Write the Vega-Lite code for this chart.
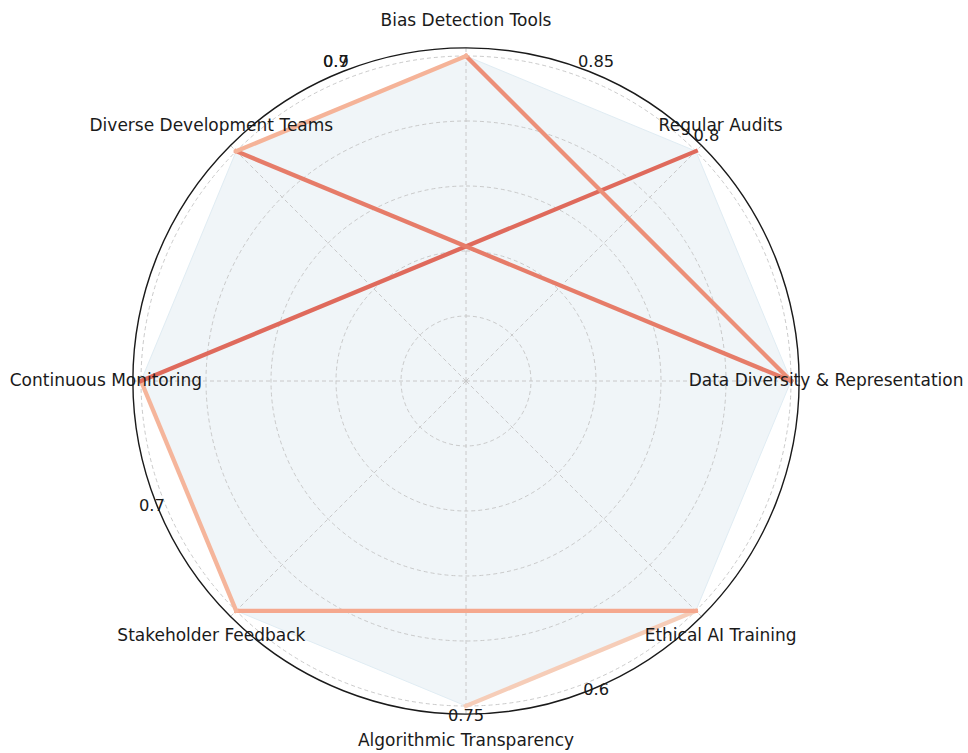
{
  "$schema": "https://vega.github.io/schema/vega-lite/v6.json",
  "width": 700,
  "height": 700,
  "autosize": {"type": "none"},
  "padding": {"left": 116, "top": 31, "right": 152, "bottom": 22},
  "background": "white",
  "config": {"view": {"stroke": null}, "text": {"font": "DejaVu Sans"}},
  "datasets": {
    "categories": [
      {"idx": 0, "category": "Bias Detection Tools", "angle": 90, "score": 1.0},
      {"idx": 1, "category": "Regular Audits", "angle": 45, "score": 1.0},
      {"idx": 2, "category": "Data Diversity & Representation", "angle": 0, "score": 1.0},
      {"idx": 3, "category": "Ethical AI Training", "angle": -45, "score": 1.0},
      {"idx": 4, "category": "Algorithmic Transparency", "angle": -90, "score": 1.0},
      {"idx": 5, "category": "Stakeholder Feedback", "angle": -135, "score": 1.0},
      {"idx": 6, "category": "Continuous Monitoring", "angle": 180, "score": 1.0},
      {"idx": 7, "category": "Diverse Development Teams", "angle": 135, "score": 1.0}
    ],
    "segments": [
      {"seg": "s1", "from": "Algorithmic Transparency", "to": "Ethical AI Training"},
      {"seg": "s2", "from": "Ethical AI Training", "to": "Stakeholder Feedback"},
      {"seg": "s3", "from": "Stakeholder Feedback", "to": "Continuous Monitoring"},
      {"seg": "s4", "from": "Continuous Monitoring", "to": "Regular Audits"},
      {"seg": "s5", "from": "Diverse Development Teams", "to": "Data Diversity & Representation"},
      {"seg": "s6", "from": "Data Diversity & Representation", "to": "Bias Detection Tools"},
      {"seg": "s7", "from": "Bias Detection Tools", "to": "Diverse Development Teams"}
    ],
    "rings": [{"r": 0.2}, {"r": 0.4}, {"r": 0.6}, {"r": 0.8}, {"r": 1.0}],
    "frame": [{"r": 1.025}],
    "valueLabels": [
      {"label": "0.9", "angle": 112.5},
      {"label": "0.7", "angle": 112.5},
      {"label": "0.85", "angle": 67.5},
      {"label": "0.8", "angle": 45},
      {"label": "0.6", "angle": -67.5},
      {"label": "0.75", "angle": -90},
      {"label": "0.7", "angle": -157.5}
    ]
  },
  "layer": [
    {
      "data": {"name": "categories"},
      "transform": [
        {"calculate": "datum.score * cos(datum.angle * PI / 180)", "as": "px"},
        {"calculate": "datum.score * sin(datum.angle * PI / 180)", "as": "py"}
      ],
      "mark": {"type": "line", "interpolate": "linear-closed", "fill": "#f0f5f8", "stroke": "#e0ecf3", "strokeWidth": 1},
      "encoding": {
        "x": {"field": "px", "type": "quantitative", "scale": {"domain": [-1.0769, 1.0769], "nice": false, "zero": false}, "axis": null},
        "y": {"field": "py", "type": "quantitative", "scale": {"domain": [-1.0769, 1.0769], "nice": false, "zero": false}, "axis": null},
        "order": {"field": "idx", "type": "quantitative"}
      }
    },
    {
      "data": {"name": "rings"},
      "mark": {"type": "arc", "filled": false, "stroke": "#c4c4c4", "strokeWidth": 0.9, "strokeDash": [4, 3]},
      "encoding": {
        "theta": {"datum": 0, "type": "quantitative", "scale": null},
        "theta2": {"datum": 6.2832},
        "radius": {"field": "r", "type": "quantitative", "stack": null, "scale": {"type": "linear", "domain": [0, 1.0769], "range": [0, 350], "zero": true, "nice": false}, "legend": null}
      }
    },
    {
      "data": {"name": "categories"},
      "transform": [
        {"calculate": "1.025 * cos(datum.angle * PI / 180)", "as": "ex"},
        {"calculate": "1.025 * sin(datum.angle * PI / 180)", "as": "ey"},
        {"calculate": "0", "as": "ox"}
      ],
      "mark": {"type": "rule", "stroke": "#c4c4c4", "strokeWidth": 0.9, "strokeDash": [4, 3]},
      "encoding": {
        "x": {"field": "ox", "type": "quantitative", "scale": {"domain": [-1.0769, 1.0769], "nice": false, "zero": false}, "axis": null},
        "y": {"field": "ox", "type": "quantitative", "scale": {"domain": [-1.0769, 1.0769], "nice": false, "zero": false}, "axis": null},
        "x2": {"field": "ex"},
        "y2": {"field": "ey"}
      }
    },
    {
      "data": {"name": "frame"},
      "mark": {"type": "arc", "filled": false, "stroke": "#1a1a1a", "strokeWidth": 1.4},
      "encoding": {
        "theta": {"datum": 0, "type": "quantitative", "scale": null},
        "theta2": {"datum": 6.2832},
        "radius": {"field": "r", "type": "quantitative", "stack": null, "scale": {"type": "linear", "domain": [0, 1.0769], "range": [0, 350], "zero": true, "nice": false}, "legend": null}
      }
    },
    {
      "data": {"name": "segments"},
      "transform": [
        {"lookup": "from", "from": {"data": {"name": "categories"}, "key": "category", "fields": ["angle", "score"]}, "as": ["a1", "s1v"]},
        {"lookup": "to", "from": {"data": {"name": "categories"}, "key": "category", "fields": ["angle", "score"]}, "as": ["a2", "s2v"]},
        {"calculate": "datum.s1v * cos(datum.a1 * PI / 180)", "as": "x1"},
        {"calculate": "datum.s1v * sin(datum.a1 * PI / 180)", "as": "y1"},
        {"calculate": "datum.s2v * cos(datum.a2 * PI / 180)", "as": "x2"},
        {"calculate": "datum.s2v * sin(datum.a2 * PI / 180)", "as": "y2"}
      ],
      "mark": {"type": "rule", "strokeWidth": 4.3, "strokeCap": "square"},
      "encoding": {
        "x": {"field": "x1", "type": "quantitative", "scale": {"domain": [-1.0769, 1.0769], "nice": false, "zero": false}, "axis": null},
        "y": {"field": "y1", "type": "quantitative", "scale": {"domain": [-1.0769, 1.0769], "nice": false, "zero": false}, "axis": null},
        "x2": {"field": "x2"},
        "y2": {"field": "y2"},
        "color": {
          "field": "seg", "type": "nominal", "legend": null,
          "scale": {"domain": ["s1", "s2", "s3", "s4", "s5", "s6", "s7"],
                    "range": ["#f6cdb8", "#f5a88e", "#f5b59b", "#df6a5c", "#e67c69", "#ec8f78", "#f5b398"]}
        }
      }
    },
    {
      "data": {"name": "categories"},
      "transform": [
        {"calculate": "1.108 * cos(datum.angle * PI / 180)", "as": "lx"},
        {"calculate": "1.108 * sin(datum.angle * PI / 180)", "as": "ly"}
      ],
      "mark": {"type": "text", "fontSize": 17, "align": "center", "baseline": "middle", "color": "#1a1a1a"},
      "encoding": {
        "x": {"field": "lx", "type": "quantitative", "scale": {"domain": [-1.0769, 1.0769], "nice": false, "zero": false}, "axis": null},
        "y": {"field": "ly", "type": "quantitative", "scale": {"domain": [-1.0769, 1.0769], "nice": false, "zero": false}, "axis": null},
        "text": {"field": "category"}
      }
    },
    {
      "data": {"name": "valueLabels"},
      "transform": [
        {"calculate": "1.046 * cos(datum.angle * PI / 180)", "as": "vx"},
        {"calculate": "1.046 * sin(datum.angle * PI / 180)", "as": "vy"}
      ],
      "mark": {"type": "text", "fontSize": 16.3, "align": "center", "baseline": "alphabetic", "color": "#1a1a1a"},
      "encoding": {
        "x": {"field": "vx", "type": "quantitative", "scale": {"domain": [-1.0769, 1.0769], "nice": false, "zero": false}, "axis": null},
        "y": {"field": "vy", "type": "quantitative", "scale": {"domain": [-1.0769, 1.0769], "nice": false, "zero": false}, "axis": null},
        "text": {"field": "label"}
      }
    }
  ]
}
